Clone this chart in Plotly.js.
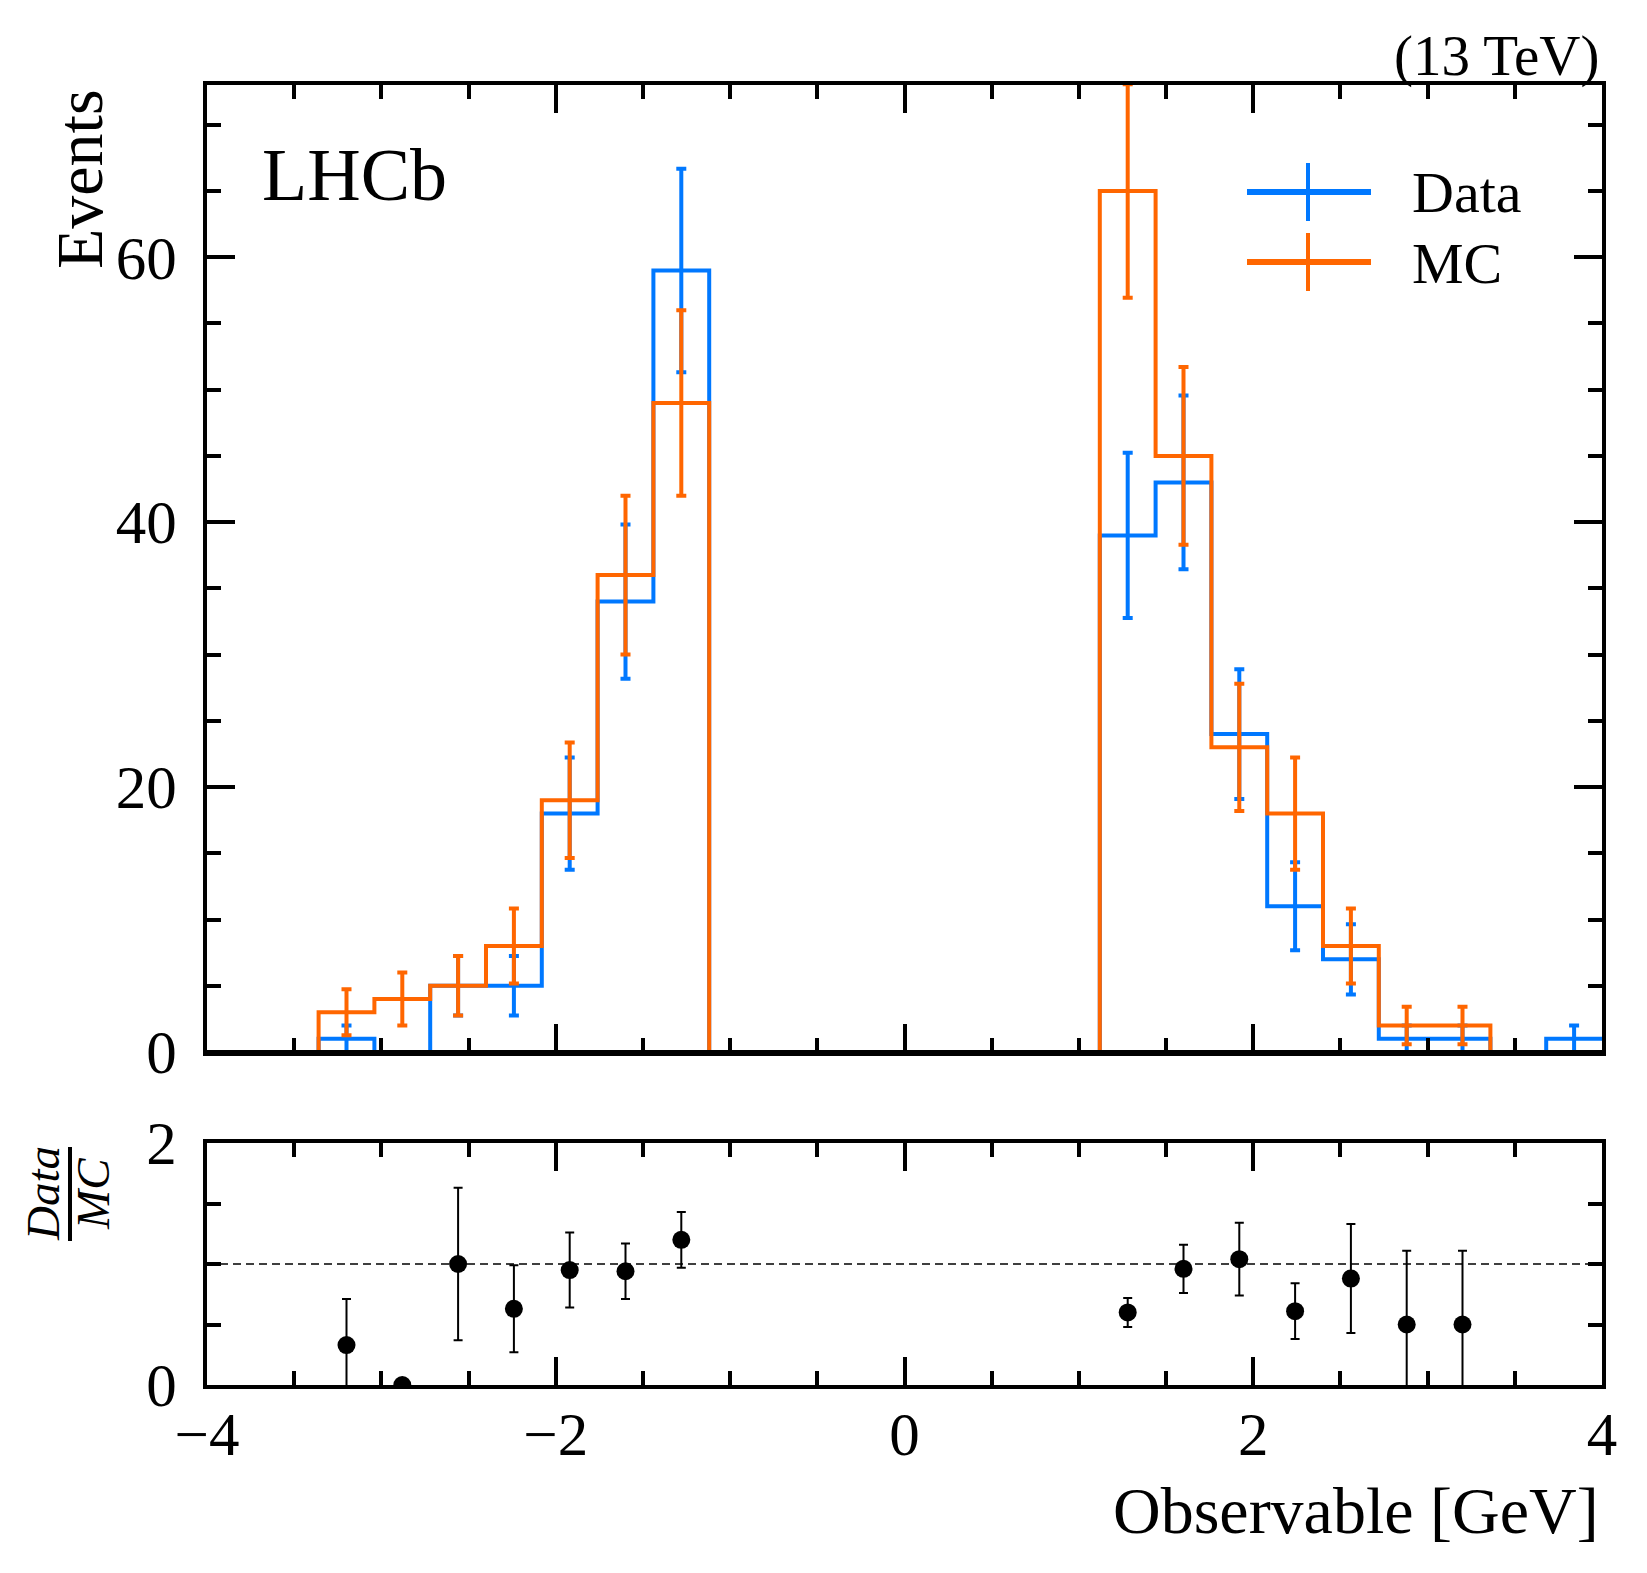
<!DOCTYPE html>
<html>
<head>
<meta charset="utf-8">
<script src="https://cdn.plot.ly/plotly-3.0.1.min.js"></script>
<style>
  html, body { margin: 0; padding: 0; background: #fff; }
  #chart { width: 1647px; height: 1573px; }
</style>
</head>
<body>
<div id="chart"></div>
<script>
// bins: 25 bins from -4 to 4
const binEdges = [-4.00, -3.68, -3.36, -3.04, -2.72, -2.40, -2.08, -1.76, -1.44, -1.12, -0.80, -0.48, -0.16,
                  0.16, 0.48, 0.80, 1.12, 1.44, 1.76, 2.08, 2.40, 2.72, 3.04, 3.36, 3.68, 4.00];
const binCenters = [-3.84, -3.52, -3.20, -2.88, -2.56, -2.24, -1.92, -1.60, -1.28, -0.96, -0.64, -0.32, 0.00,
                    0.32, 0.64, 0.96, 1.28, 1.60, 1.92, 2.24, 2.56, 2.88, 3.20, 3.52, 3.84];

const dataCounts = [0, 0, 1, 0, 5, 5, 18, 34, 59, 0, 0, 0, 0, 0, 0, 0, 39, 43, 24, 11, 7, 1, 1, 0, 1];
const dataErr    = [0, 0, 1, 0, 2.24, 2.24, 4.24, 5.83, 7.68, 0, 0, 0, 0, 0, 0, 0, 6.24, 6.56, 4.90, 3.32, 2.65, 1, 1, 0, 1];
const mcCounts   = [0, 0, 3, 4, 5, 8, 19, 36, 49, 0, 0, 0, 0, 0, 0, 0, 65, 45, 23, 18, 8, 2, 2, 0, 0];
const mcErr      = [0, 0, 1.73, 2, 2.24, 2.83, 4.36, 6, 7, 0, 0, 0, 0, 0, 0, 0, 8.06, 6.71, 4.80, 4.24, 2.83, 1.41, 1.41, 0, 0];

// ratio panel
const ratioX   = [-3.20, -2.88, -2.56, -2.24, -1.92, -1.60, -1.28, 1.28, 1.60, 1.92, 2.24, 2.56, 2.88, 3.20];
const ratioVal = [0.33, 0, 1.00, 0.63, 0.95, 0.94, 1.20, 0.60, 0.96, 1.04, 0.61, 0.88, 0.50, 0.50];
const ratioErr = [0.38, 0, 0.63, 0.36, 0.31, 0.23, 0.23, 0.12, 0.20, 0.30, 0.23, 0.45, 0.61, 0.61];

const BLUE = '#0078FF';
const ORANGE = '#FF6600';
const FONT = 'Liberation Serif, Times New Roman, serif';

// step outline through the bin edges
function stepTrace(counts, color) {
  return {
    x: binEdges,
    y: counts.concat([counts[counts.length - 1]]),
    type: 'scatter', mode: 'lines',
    line: { shape: 'hv', color: color, width: 4 },
    xaxis: 'x', yaxis: 'y', hoverinfo: 'skip'
  };
}

// error bars at bin centres (only filled bins)
function errTrace(counts, errs, color) {
  const idx = counts.map((c, i) => i).filter(i => counts[i] > 0);
  return {
    x: idx.map(i => binCenters[i]),
    y: idx.map(i => counts[i]),
    type: 'scatter', mode: 'markers',
    marker: { size: 2, color: 'rgba(0,0,0,0)' },
    error_y: { type: 'data', array: idx.map(i => errs[i]), visible: true,
               color: color, thickness: 4, width: 5 },
    xaxis: 'x', yaxis: 'y', hoverinfo: 'skip'
  };
}

const traces = [
  stepTrace(dataCounts, BLUE),
  errTrace(dataCounts, dataErr, BLUE),
  stepTrace(mcCounts, ORANGE),
  errTrace(mcCounts, mcErr, ORANGE),
  {
    x: ratioX, y: ratioVal,
    type: 'scatter', mode: 'markers',
    marker: { size: 18, color: 'black' },
    error_y: { type: 'data', array: ratioErr, visible: true, color: 'black', thickness: 2, width: 4.5 },
    xaxis: 'x2', yaxis: 'y2', hoverinfo: 'skip'
  }
];

const axisCommon = {
  showline: true, linewidth: 4, linecolor: 'black', mirror: 'allticks',
  ticks: 'inside', ticklen: 28, tickwidth: 4, tickcolor: 'black',
  showgrid: false, zeroline: false, automargin: false, layer: 'above traces',
  tickfont: { family: FONT, size: 61, color: 'black' }
};

// paper coordinates from pixel positions of the plot box
const L = 207, R = 1602, T = 85, B = 1385;
const px = v => (v - L) / (R - L);
const py = v => (B - v) / (B - T);

const layout = {
  width: 1647, height: 1573,
  margin: { l: L, r: 1647 - R, t: T, b: 1573 - B, pad: 0 },
  paper_bgcolor: 'white', plot_bgcolor: 'white',
  showlegend: false,
  font: { family: FONT, color: 'black' },
  xaxis: Object.assign({}, axisCommon, {
    domain: [0, 1], anchor: 'y', range: [-4, 4], tick0: 0, dtick: 2, showticklabels: false,
    minor: { dtick: 0.5, ticks: 'inside', ticklen: 14, tickwidth: 4, tickcolor: 'black' }
  }),
  yaxis: Object.assign({}, axisCommon, {
    domain: [py(1052), 1], anchor: 'x', range: [0, 73], tick0: 0, dtick: 20, ticklabelstandoff: 14,
    minor: { dtick: 5, ticks: 'inside', ticklen: 14, tickwidth: 4, tickcolor: 'black' }
  }),
  xaxis2: Object.assign({}, axisCommon, {
    domain: [0, 1], anchor: 'y2', matches: 'x', range: [-4, 4], tick0: 0, dtick: 2, ticklabelstandoff: -7,
    minor: { dtick: 0.5, ticks: 'inside', ticklen: 14, tickwidth: 4, tickcolor: 'black' }
  }),
  yaxis2: Object.assign({}, axisCommon, {
    domain: [0, py(1143)], anchor: 'x2', range: [0, 2], tick0: 0, dtick: 2, ticklabelstandoff: 14,
    minor: { dtick: 0.5, ticks: 'inside', ticklen: 14, tickwidth: 4, tickcolor: 'black' }
  }),
  shapes: [
    // bottom spine of the main panel drawn over the empty step segments
    { type: 'line', xref: 'paper', yref: 'y', x0: 0, x1: 1, y0: 0, y1: 0, layer: 'above',
      line: { color: 'black', width: 4 } },
    // reference line at ratio 1
    { type: 'line', xref: 'paper', yref: 'y2', x0: 0, x1: 1, y0: 1, y1: 1, layer: 'below',
      line: { color: 'black', width: 1.5, dash: '8px,5px' } },
    // fraction bar for the ratio label
    { type: 'line', xref: 'paper', yref: 'paper', x0: px(70), x1: px(70), y0: py(1147), y1: py(1241),
      line: { color: 'black', width: 4 } },
    // legend handles
    { type: 'line', xref: 'paper', yref: 'paper', x0: px(1247), x1: px(1371), y0: py(192), y1: py(192),
      line: { color: BLUE, width: 6 } },
    { type: 'line', xref: 'paper', yref: 'paper', x0: px(1308), x1: px(1308), y0: py(163), y1: py(221),
      line: { color: BLUE, width: 4 } },
    { type: 'line', xref: 'paper', yref: 'paper', x0: px(1247), x1: px(1371), y0: py(262), y1: py(262),
      line: { color: ORANGE, width: 6 } },
    { type: 'line', xref: 'paper', yref: 'paper', x0: px(1308), x1: px(1308), y0: py(233), y1: py(291),
      line: { color: ORANGE, width: 4 } }
  ],
  annotations: [
    { text: 'LHCb', xref: 'paper', yref: 'paper', x: px(260), y: py(175), xanchor: 'left', yanchor: 'middle',
      showarrow: false, font: { family: FONT, size: 74, color: 'black' } },
    { text: '(13 TeV)', xref: 'paper', yref: 'paper', x: px(1601), y: py(56), xanchor: 'right', yanchor: 'middle',
      showarrow: false, font: { family: FONT, size: 57, color: 'black' } },
    { text: 'Data', xref: 'paper', yref: 'paper', x: px(1410), y: py(193), xanchor: 'left', yanchor: 'middle',
      showarrow: false, font: { family: FONT, size: 58, color: 'black' } },
    { text: 'MC', xref: 'paper', yref: 'paper', x: px(1410), y: py(263), xanchor: 'left', yanchor: 'middle',
      showarrow: false, font: { family: FONT, size: 58, color: 'black' } },
    { text: 'Events', xref: 'paper', yref: 'paper', x: px(80), y: py(87), xanchor: 'center', yanchor: 'top',
      textangle: -90, showarrow: false, font: { family: FONT, size: 66, color: 'black' } },
    { text: 'Observable [GeV]', xref: 'paper', yref: 'paper', x: px(1601), y: py(1510), xanchor: 'right', yanchor: 'middle',
      showarrow: false, font: { family: FONT, size: 66, color: 'black' } },
    { text: '<i>Data</i>', xref: 'paper', yref: 'paper', x: px(43), y: py(1194), xanchor: 'center', yanchor: 'middle',
      textangle: -90, showarrow: false, font: { family: FONT, size: 47, color: 'black' } },
    { text: '<i>MC</i>', xref: 'paper', yref: 'paper', x: px(93), y: py(1194), xanchor: 'center', yanchor: 'middle',
      textangle: -90, showarrow: false, font: { family: FONT, size: 47, color: 'black' } }
  ]
};

Plotly.newPlot('chart', traces, layout, { staticPlot: true, displayModeBar: false });
</script>
</body>
</html>
